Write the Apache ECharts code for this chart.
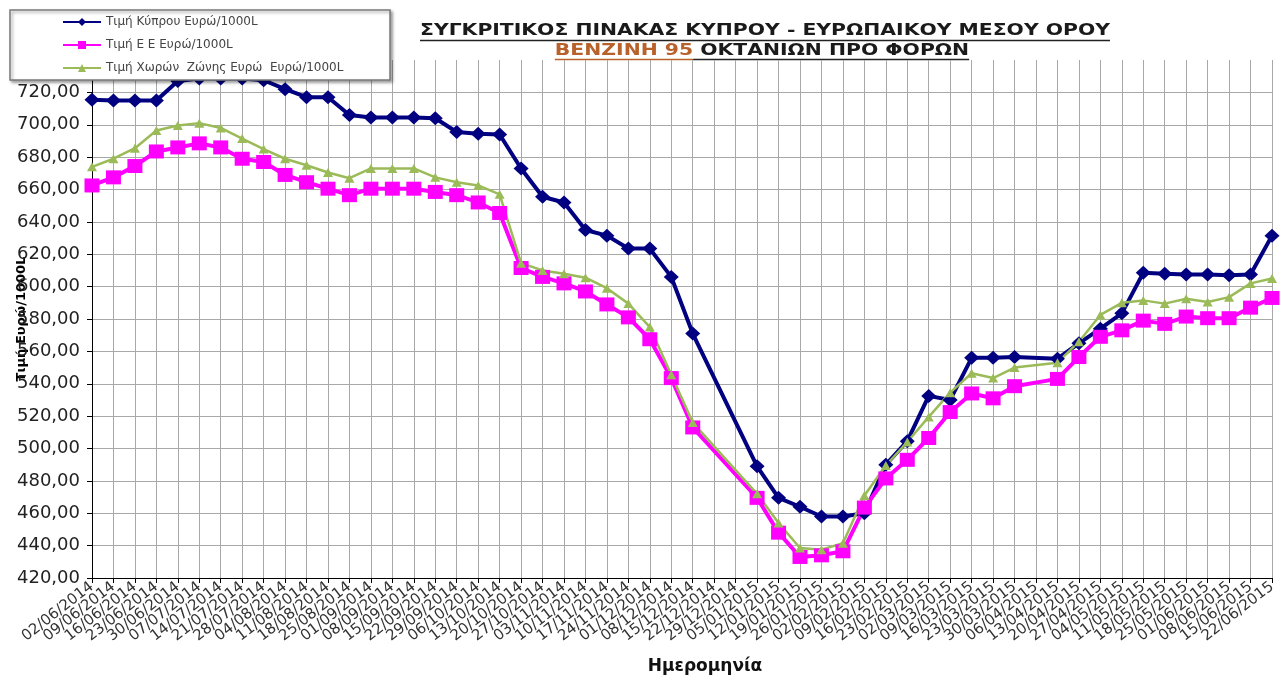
<!DOCTYPE html>
<html><head><meta charset="utf-8">
<script src="https://cdn.jsdelivr.net/npm/echarts@6/dist/echarts.min.js"></script>
<style>html,body{margin:0;padding:0;background:#fff}#c{width:1283px;height:675px}</style>
</head><body><div id="c"></div>
<script>
const dates = ['02/06/2014','09/06/2014','16/06/2014','23/06/2014','30/06/2014','07/07/2014','14/07/2014','21/07/2014','28/07/2014','04/08/2014','11/08/2014','18/08/2014','25/08/2014','01/09/2014','08/09/2014','15/09/2014','22/09/2014','29/09/2014','06/10/2014','13/10/2014','20/10/2014','27/10/2014','03/11/2014','10/11/2014','17/11/2014','24/11/2014','01/12/2014','08/12/2014','15/12/2014','22/12/2014','29/12/2014','05/01/2015','12/01/2015','19/01/2015','26/01/2015','02/02/2015','09/02/2015','16/02/2015','23/02/2015','02/03/2015','09/03/2015','16/03/2015','23/03/2015','30/03/2015','06/04/2015','13/04/2015','20/04/2015','27/04/2015','04/05/2015','11/05/2015','18/05/2015','25/05/2015','01/06/2015','08/06/2015','15/06/2015','22/06/2015'];

const cyprus = [715.5,715,715,715,727,728.5,728.5,728.5,727.5,722,717,717,706,704.5,704.5,704.5,704,695.5,694.5,694,673,655.5,652,635,631.5,623.5,623.5,606,571,null,null,489,469.5,464,458,458,460,490,504.5,532.5,530,556,556,556.5,null,555.5,565,574,583.5,608.5,608,607.5,607.5,607,607.5,631.5];

const eu = [662.5,667.5,674.5,683.5,686,688.5,686,679,677,669,664.5,660.5,656.5,660.5,660.5,660.5,658.5,656.5,652,645.5,611.5,606,602,597,589,581,567.5,543.5,513,null,null,469.5,448,433,434,436.5,463.5,481.5,493,506.5,522.5,534,531,538.5,null,543,556.5,569,573,579,577,581.5,580.5,580.5,587,593];

const eurozone = [674,679,685.5,696.5,699.5,701,698,691.5,685,679,675,670.5,667,673,673,673,667.5,664.5,662.5,657,614.5,610,608,605.5,599,589.5,575,545.5,516,null,null,472,454,438.5,437.5,441.5,471,489.5,504,519.5,534.5,546.5,543.5,550,null,553,566,582.5,590,591.5,589.5,592.5,590.5,593.5,602,605];

const seriesNames = ['Τιμή Κύπρου Ευρώ/1000L','Τιμή Ε Ε Ευρώ/1000L','Τιμή Χωρών  Ζώνης Ευρώ  Ευρώ/1000L'];
const yMin = 420, yMax = 740, yStep = 20;

const FONT = '"DejaVu Sans", Verdana, sans-serif';
function measure(text, font){ const c=document.createElement('canvas').getContext('2d'); c.font=font; return c.measureText(text).width; }
const t1 = 'ΣΥΓΚΡΙΤΙΚΟΣ ΠΙΝΑΚΑΣ ΚΥΠΡΟΥ - ΕΥΡΩΠΑΙΚΟΥ ΜΕΣΟΥ ΟΡΟΥ';
const t2a = 'ΒΕΝΖΙΝΗ 95', t2b = ' ΟΚΤΑΝΙΩΝ ΠΡΟ ΦΟΡΩΝ';
const ts = 16;
const tf = 'bold ' + ts + 'px ' + FONT;
const w1 = measure(t1, tf), w2a = measure(t2a, tf), w2b = measure(t2b, tf);
const sx = 690 / w1;
const cx1 = 765, cx2 = 762;
const orange = '#b8612a';
const tStyle = { font: tf, fill: '#1a1a1a', textVerticalAlign: 'middle' };

const chart = echarts.init(document.getElementById('c'));
chart.setOption({
  backgroundColor: '#fff',
  animation: false,
  graphic: [
    { type: 'group', x: cx1, y: 0, scaleX: sx, z: 50, children: [
      { type: 'text', x: -w1/2, y: 31, style: Object.assign({ text: t1 }, tStyle) },
      { type: 'line', shape: { x1: -w1/2, y1: 40.5, x2: w1/2, y2: 40.5 }, style: { stroke: '#222', lineWidth: 1.5 } }
    ]},
    { type: 'group', x: cx2, y: 0, scaleX: sx, z: 50, children: [
      { type: 'text', x: -(w2a + w2b)/2, y: 51, style: Object.assign({}, tStyle, { text: t2a, fill: orange }) },
      { type: 'text', x: -(w2a + w2b)/2 + w2a, y: 51, style: Object.assign({ text: t2b }, tStyle) },
      { type: 'line', shape: { x1: -(w2a + w2b)/2, y1: 59.5, x2: -(w2a + w2b)/2 + w2a, y2: 59.5 }, style: { stroke: orange, lineWidth: 1.5 } },
      { type: 'line', shape: { x1: -(w2a + w2b)/2 + w2a, y1: 59.5, x2: (w2a + w2b)/2, y2: 59.5 }, style: { stroke: '#222', lineWidth: 1.5 } }
    ]},
    { type: 'rect', z: 100, shape: { x: 10, y: 10, width: 380, height: 70 },
      style: { fill: '#fff', stroke: '#7a7a7a', lineWidth: 1.5, shadowBlur: 3, shadowOffsetX: 2, shadowOffsetY: 2, shadowColor: 'rgba(0,0,0,0.35)' } }
  ],
  legend: {
    z: 110, orient: 'vertical', left: 62, top: 16, padding: 0, itemGap: 11,
    itemWidth: 38, itemHeight: 10,
    textStyle: { fontFamily: FONT, fontSize: 12, color: '#444' },
    data: seriesNames
  },
  grid: { left: 92, right: 11, top: 60, bottom: 97, containLabel: false, outerBoundsMode: 'none' },
  xAxis: {
    type: 'category', data: dates, boundaryGap: false,
    name: 'Ημερομηνία', nameLocation: 'middle', nameGap: 80, nameMoveOverlap: false,
    nameTextStyle: { fontFamily: FONT, fontWeight: 'bold', fontSize: 17, color: '#111', padding: [0, 0, 0, 46] },
    axisLine: { lineStyle: { color: '#000', width: 1 } },
    axisTick: { show: true, interval: 0, length: 5, lineStyle: { color: '#000' } },
    axisLabel: { interval: 0, rotate: 38, margin: 7, fontFamily: FONT, fontSize: 15, color: '#333' },
    splitLine: { show: true, interval: 0, lineStyle: { color: '#a8a8a8', width: 1 } }
  },
  yAxis: {
    type: 'value', min: yMin, max: yMax, interval: yStep,
    name: 'Τιμή Ευρώ/1000L', nameLocation: 'middle', nameGap: 64, nameRotate: 90, nameMoveOverlap: false,
    nameTextStyle: { fontFamily: FONT, fontWeight: 'bold', fontSize: 13, color: '#000', padding: [0, 0, 0, 0] },
    axisLine: { show: true, lineStyle: { color: '#000', width: 1 } },
    axisTick: { show: true, length: 5, lineStyle: { color: '#000' } },
    axisLabel: { margin: 12, fontFamily: FONT, fontSize: 18, color: '#222', showMaxLabel: false,
      formatter: v => v.toFixed(2).replace('.', ',') },
    splitLine: { show: true, showMaxLine: false, lineStyle: { color: '#a8a8a8', width: 1 } }
  },
  series: [
    { name: seriesNames[0], type: 'line', data: cyprus, connectNulls: true,
      symbol: 'diamond', symbolSize: [15, 14], itemStyle: { color: '#000080' },
      lineStyle: { color: '#000080', width: 4 } },
    { name: seriesNames[1], type: 'line', data: eu, connectNulls: true,
      symbol: 'rect', symbolSize: [15, 14], itemStyle: { color: '#ff00ff' },
      lineStyle: { color: '#ff00ff', width: 4 } },
    { name: seriesNames[2], type: 'line', data: eurozone, connectNulls: true,
      symbol: 'triangle', symbolSize: [10, 9], itemStyle: { color: '#9bbb59' },
      lineStyle: { color: '#9bbb59', width: 2.5 } }
  ]
});
</script>
</body></html>
